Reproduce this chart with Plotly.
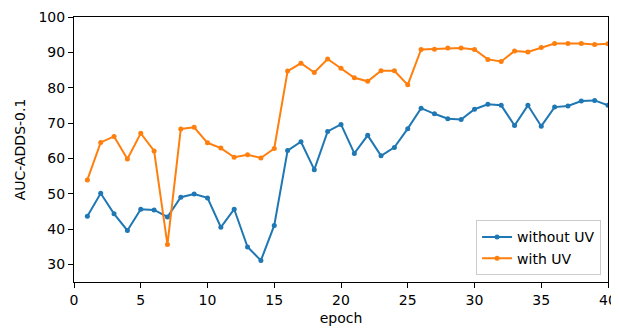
import plotly.graph_objects as go

epochs = list(range(1, 41))
without_uv = [43.6, 50.1, 44.3, 39.6, 45.6, 45.4, 43.4, 49.0, 49.9, 48.8,
              40.5, 45.6, 34.9, 31.1, 41.0, 62.2, 64.7, 56.8, 67.6, 69.6,
              61.4, 66.5, 60.7, 63.1, 68.4, 74.2, 72.6, 71.2, 71.0, 73.9,
              75.3, 75.0, 69.3, 75.0, 69.1, 74.5, 74.8, 76.2, 76.4, 75.0]
with_uv = [53.9, 64.5, 66.2, 59.8, 67.1, 62.1, 35.6, 68.3, 68.8, 64.4,
           62.9, 60.3, 61.0, 60.1, 62.8, 84.7, 86.9, 84.3, 88.1, 85.5,
           82.8, 81.8, 84.8, 84.8, 80.8, 90.8, 90.9, 91.2, 91.2, 90.8,
           88.0, 87.4, 90.4, 90.1, 91.4, 92.5, 92.5, 92.5, 92.2, 92.4]
x_ticks = [0, 5, 10, 15, 20, 25, 30, 35, 40]
y_ticks = [30, 40, 50, 60, 70, 80, 90, 100]

fig = go.Figure()
fig.add_trace(go.Scatter(x=epochs, y=without_uv, mode="lines+markers", name="without UV",
                         line=dict(color="#1f77b4", width=2), marker=dict(size=5, color="#1f77b4")))
fig.add_trace(go.Scatter(x=epochs, y=with_uv, mode="lines+markers", name="with UV",
                         line=dict(color="#ff7f0e", width=2), marker=dict(size=5, color="#ff7f0e")))

axis_common = dict(showgrid=False, zeroline=False, showline=True, linecolor="black", linewidth=1,
                   mirror=True, ticks="outside", ticklen=5, tickwidth=1, tickcolor="black",
                   tickfont=dict(size=14, color="black"), automargin=False)
fig.update_layout(
    width=611, height=321,
    margin=dict(l=66, r=11, t=9, b=47),
    paper_bgcolor="white", plot_bgcolor="white",
    font=dict(family="DejaVu Sans", size=14, color="black"),
    xaxis=dict(range=[0, 40], tickvals=x_ticks, title=dict(text="epoch", standoff=6, font=dict(size=14)), **axis_common),
    yaxis=dict(range=[25, 100], tickvals=y_ticks, title=dict(text="AUC-ADDS-0.1", standoff=9, font=dict(size=14)), **axis_common),
    legend=dict(x=0.987, y=0.025, xanchor="right", yanchor="bottom", bgcolor="rgba(255,255,255,0.8)",
                bordercolor="#cccccc", borderwidth=1, font=dict(size=14), itemwidth=30),
    showlegend=True,
)
fig.write_html("out.html")
